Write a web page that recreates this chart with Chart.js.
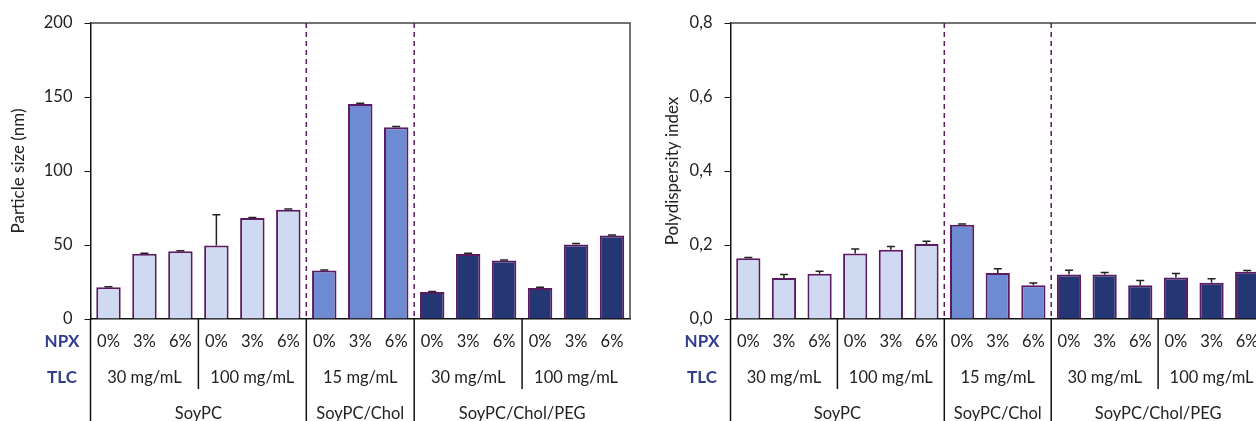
<!DOCTYPE html>
<html>
<head>
<meta charset="utf-8">
<script src="https://cdn.jsdelivr.net/npm/chart.js@4.4.1/dist/chart.umd.min.js"></script>
<style>
  html, body { margin: 0; padding: 0; background: #fff; overflow: hidden; width: 1256px; height: 421px; }
  .box { position: absolute; top: 0; width: 640px; height: 440px; }
  #leftBox { left: 0; }
  #rightBox { left: 640px; }
</style>
</head>
<body>
<div class="box" id="leftBox"><canvas id="sizeChart" width="640" height="440"></canvas></div>
<div class="box" id="rightBox"><canvas id="pdiChart" width="640" height="440"></canvas></div>
<script>
// datos
const npxLabels = ['0%', '3%', '6%', '0%', '3%', '6%', '0%', '3%', '6%', '0%', '3%', '6%', '0%', '3%', '6%'];
const tlcLabels = ['30 mg/mL', '100 mg/mL', '15 mg/mL', '30 mg/mL', '100 mg/mL'];
const groupNames = ['SoyPC', 'SoyPC/Chol', 'SoyPC/Chol/PEG'];
const groupSpans = [6, 3, 6];

const sizeValues = [21.4, 44.1, 45.7, 49.7, 68.2, 73.8, 32.8, 145.2, 129.5, 18.2, 43.9, 39.6, 20.9, 50.4, 56.5];
const sizeErrors = [0.4, 0.3, 0.4, 20.8, 0.3, 0.5, 0.3, 0.6, 0.5, 0.3, 0.6, 0.3, 0.5, 0.6, 0.3];

const pdiValues = [0.164, 0.111, 0.122, 0.177, 0.187, 0.203, 0.255, 0.124, 0.091, 0.120, 0.120, 0.091, 0.112, 0.098, 0.128];
const pdiErrors = [0.002, 0.009, 0.007, 0.012, 0.009, 0.007, 0.002, 0.012, 0.006, 0.012, 0.006, 0.013, 0.011, 0.011, 0.003];

const groupColors = ['#cfd9f1', '#6e8ad3', '#243774'];
const barColors = [];
groupSpans.forEach((n, g) => { for (let i = 0; i < n; i++) barColors.push(groupColors[g]); });

const FONT = 'Lato';
const purple = '#5c1a61';

// plugin: barras de error, marco, separadores y filas de etiquetas
const decorPlugin = {
    id: 'decor',
    afterDatasetsDraw(chart, args, opts) {
        const ctx = chart.ctx;
        const x = chart.scales.x;
        const y = chart.scales.y;
        const area = chart.chartArea;
        const meta = chart.getDatasetMeta(0);
        const vals = chart.data.datasets[0].data;
        const errs = opts.errors;
        const bottom = chart.height;
        const edge = i => (x.getPixelForValue(i - 1) + x.getPixelForValue(i)) / 2;

        ctx.save();
        // barras de error
        ctx.strokeStyle = '#222';
        ctx.lineWidth = 1.5;
        meta.data.forEach((bar, i) => {
            const y0 = y.getPixelForValue(vals[i]);
            const y1 = y.getPixelForValue(vals[i] + errs[i]);
            ctx.beginPath();
            ctx.moveTo(bar.x, y0);
            ctx.lineTo(bar.x, y1);
            ctx.moveTo(bar.x - 4, y1);
            ctx.lineTo(bar.x + 4, y1);
            ctx.stroke();
        });

        // marco superior y derecho
        ctx.strokeStyle = '#444';
        ctx.lineWidth = 1.5;
        ctx.beginPath();
        ctx.moveTo(area.left, area.top);
        ctx.lineTo(area.right, area.top);
        ctx.lineTo(area.right, area.bottom);
        ctx.stroke();

        // separadores de grupo (discontinuos)
        let pos = 0;
        const groupEdges = [];
        groupSpans.forEach(n => { pos += n; groupEdges.push(pos); });
        groupEdges.slice(0, -1).forEach(k => {
            const px = edge(k);
            ctx.strokeStyle = purple;
            ctx.lineWidth = 1.5;
            ctx.setLineDash([5, 4]);
            ctx.beginPath();
            ctx.moveTo(px, area.top);
            ctx.lineTo(px, area.bottom);
            ctx.stroke();
            ctx.setLineDash([]);
            ctx.strokeStyle = '#111';
            ctx.beginPath();
            ctx.moveTo(px, area.bottom);
            ctx.lineTo(px, bottom);
            ctx.stroke();
        });
        // eje izquierdo prolongado
        ctx.strokeStyle = '#111';
        ctx.beginPath();
        ctx.moveTo(area.left, area.bottom);
        ctx.lineTo(area.left, bottom);
        ctx.stroke();
        // separadores TLC
        [3, 12].forEach(k => {
            const px = edge(k);
            ctx.beginPath();
            ctx.moveTo(px, area.bottom);
            ctx.lineTo(px, area.bottom + 70);
            ctx.stroke();
        });

        // fila TLC
        ctx.fillStyle = '#222';
        ctx.font = '16.5px ' + FONT;
        ctx.textAlign = 'center';
        ctx.textBaseline = 'middle';
        tlcLabels.forEach((t, i) => {
            const c = (x.getPixelForValue(i * 3) + x.getPixelForValue(i * 3 + 2)) / 2;
            ctx.fillText(t, c, area.bottom + 59);
        });
        // fila de grupos
        pos = 0;
        groupNames.forEach((t, g) => {
            const c = (x.getPixelForValue(pos) + x.getPixelForValue(pos + groupSpans[g] - 1)) / 2;
            ctx.fillText(t, c, area.bottom + 95);
            pos += groupSpans[g];
        });
        // NPX / TLC
        ctx.fillStyle = '#2e3f8c';
        ctx.font = 'bold 17px ' + FONT;
        ctx.fillText('NPX', opts.rowLabelX, area.bottom + 23);
        ctx.fillText('TLC', opts.rowLabelX, area.bottom + 59);
        ctx.restore();
    }
};

function makeChart(id, values, errors, yMax, step, title, fmt, padRight, titlePad) {
    const ctx = document.getElementById(id).getContext('2d');
    return new Chart(ctx, {
        type: 'bar',
        data: {
            labels: npxLabels,
            datasets: [{
                data: values,
                backgroundColor: barColors,
                borderColor: purple,
                borderWidth: 2,
                barPercentage: 0.68,
                categoryPercentage: 1
            }]
        },
        plugins: [decorPlugin],
        options: {
            responsive: false,
            animation: false,
            layout: { padding: { top: 23, right: padRight, left: 0, bottom: 0 } },
            plugins: {
                legend: { display: false },
                tooltip: { enabled: false },
                decor: { errors: errors, rowLabelX: 62 }
            },
            scales: {
                x: {
                    grid: { display: false, drawTicks: false },
                    border: { display: true, color: '#111', width: 1.5 },
                    ticks: { color: '#222', font: { family: FONT, size: 16.5 }, padding: 13, autoSkip: false, maxRotation: 0 },
                    afterFit: s => { s.height = 121; }
                },
                y: {
                    min: 0,
                    max: yMax,
                    grid: { drawOnChartArea: false, drawTicks: true, tickLength: 6, color: '#111' },
                    border: { display: true, color: '#111', width: 1.5 },
                    ticks: { stepSize: step, color: '#222', font: { family: FONT, size: 16.5 }, padding: 12, callback: fmt },
                    title: { display: true, text: title, color: '#222', font: { family: FONT, size: 17 }, padding: { top: titlePad, bottom: 0 } },
                    afterFit: s => { s.width = 90.5; }
                }
            }
        }
    });
}

makeChart('sizeChart', sizeValues, sizeErrors, 200, 50, 'Particle size (nm)', v => v, 10, 8);
makeChart('pdiChart', pdiValues, pdiErrors, 0.8, 0.2, 'Polydispersity index', v => v.toFixed(1).replace('.', ','), 15, 22);
</script>
</body>
</html>
